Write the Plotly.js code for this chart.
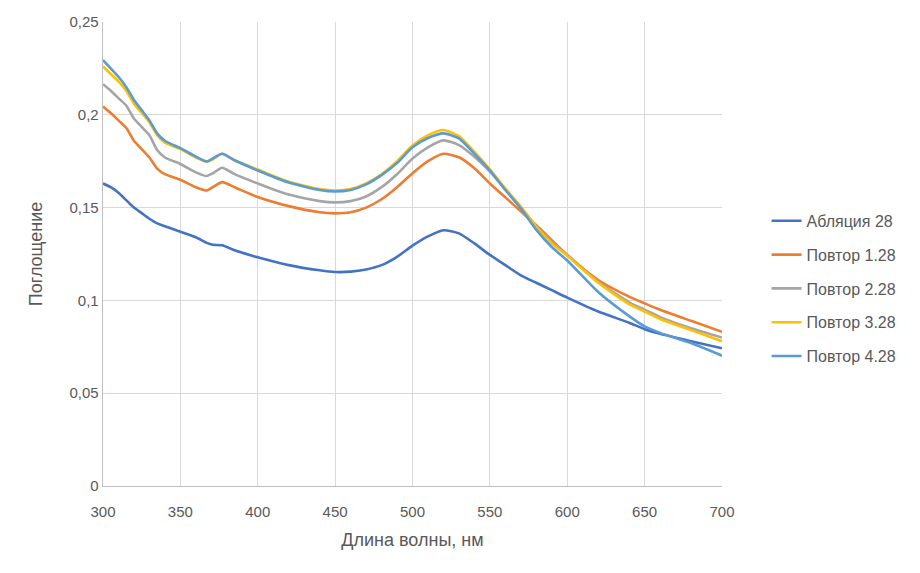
<!DOCTYPE html>
<html>
<head>
<meta charset="utf-8">
<script src="https://cdn.plot.ly/plotly-3.0.1.min.js"></script>
<style>
  html, body { margin: 0; padding: 0; background: #fff; }
  #chart { width: 920px; height: 573px; }
</style>
</head>
<body>
<div id="chart"></div>
<script>
// wavelength, nm
var wave = [300, 305, 310, 315, 320, 325, 330, 335, 340, 350, 360, 367, 371, 377, 385, 400, 420, 440, 450, 460, 470, 480, 490, 500, 510, 520, 530, 540, 550, 560, 570, 580, 590, 600, 620, 640, 650, 660, 680, 700]

var ablation28 = [0.163, 0.161, 0.158, 0.154, 0.150, 0.147, 0.144, 0.1415, 0.140, 0.137, 0.134, 0.131, 0.130, 0.1297, 0.127, 0.1232, 0.119, 0.1162, 0.1153, 0.1155, 0.1167, 0.119, 0.1235, 0.1295, 0.1345, 0.1378, 0.1361, 0.1307, 0.1245, 0.119, 0.1135, 0.1095, 0.1055, 0.1015, 0.094, 0.088, 0.0845, 0.082, 0.078, 0.0742]
var repeat1 = [0.2045, 0.201, 0.197, 0.193, 0.186, 0.1815, 0.177, 0.171, 0.168, 0.165, 0.161, 0.1592, 0.161, 0.1637, 0.161, 0.1557, 0.1508, 0.1475, 0.1469, 0.1475, 0.150, 0.1545, 0.161, 0.1685, 0.175, 0.179, 0.1771, 0.1712, 0.163, 0.1555, 0.148, 0.1405, 0.1325, 0.1245, 0.111, 0.102, 0.0984, 0.095, 0.089, 0.0831]
var repeat2 = [0.2165, 0.213, 0.209, 0.205, 0.198, 0.1935, 0.189, 0.181, 0.177, 0.1735, 0.169, 0.167, 0.1685, 0.1715, 0.168, 0.163, 0.157, 0.1535, 0.1528, 0.1535, 0.156, 0.161, 0.168, 0.1765, 0.1825, 0.1862, 0.1837, 0.1774, 0.1694, 0.160, 0.150, 0.140, 0.1315, 0.1245, 0.110, 0.099, 0.095, 0.091, 0.085, 0.080]
var repeat3 = [0.226, 0.222, 0.218, 0.213, 0.206, 0.201, 0.196, 0.189, 0.185, 0.1815, 0.177, 0.1748, 0.176, 0.179, 0.1755, 0.1705, 0.164, 0.160, 0.1592, 0.160, 0.163, 0.168, 0.175, 0.1835, 0.189, 0.1918, 0.1885, 0.180, 0.1706, 0.1604, 0.1505, 0.1397, 0.1307, 0.124, 0.1095, 0.098, 0.094, 0.090, 0.084, 0.078]
var repeat4 = [0.2295, 0.225, 0.2205, 0.215, 0.208, 0.2025, 0.197, 0.190, 0.186, 0.182, 0.1775, 0.1748, 0.1765, 0.179, 0.1755, 0.170, 0.1635, 0.1595, 0.1587, 0.1595, 0.1625, 0.1675, 0.174, 0.1825, 0.1875, 0.190, 0.1873, 0.179, 0.170, 0.1595, 0.1496, 0.138, 0.1288, 0.1215, 0.1045, 0.0915, 0.086, 0.0825, 0.077, 0.0702]

var names = ['Абляция 28', 'Повтор 1.28', 'Повтор 2.28', 'Повтор 3.28', 'Повтор 4.28']
var colors = ['#4472C4', '#ED7D31', '#A5A5A5', '#FFC000', '#5B9BD5']
var series = [ablation28, repeat1, repeat2, repeat3, repeat4]

var traces = []
series.forEach(function (ys, i) {
    traces.push({
        x: wave, y: ys, name: names[i], type: 'scatter', mode: 'lines',
        legendgroup: 'g' + i,
        line: { color: colors[i], width: 2.6, shape: 'spline', smoothing: 0.6 }
    })
})

var font = { family: 'Liberation Sans, Arial, sans-serif', size: 15, color: '#595959' }

var layout = {
    width: 920, height: 573,
    margin: { l: 103, r: 198, t: 22, b: 87 },
    paper_bgcolor: '#fff', plot_bgcolor: '#fff',
    separators: ', ',
    font: font,
    showlegend: true,
    legend: {
        x: 1.072, xanchor: 'left', y: 0.608, yanchor: 'top',
        traceorder: 'grouped', tracegroupgap: 10,
        font: { family: font.family, size: 16, color: '#595959' }
    },
    xaxis: {
        range: [300, 700], dtick: 50, tick0: 300,
        showgrid: true, gridcolor: '#d9d9d9', gridwidth: 1,
        showline: true, linecolor: '#bfbfbf', linewidth: 1.3,
        zeroline: false, ticks: '', ticklabelstandoff: 12,
        tickfont: { size: 15, color: '#595959' },
        title: { text: 'Длина волны, нм', font: { size: 18, color: '#595959' }, standoff: 14 }
    },
    yaxis: {
        range: [0, 0.25], dtick: 0.05, tick0: 0,
        showgrid: true, gridcolor: '#d9d9d9', gridwidth: 1,
        showline: true, linecolor: '#bfbfbf', linewidth: 1.3,
        zeroline: false, ticks: '',
        tickfont: { size: 15, color: '#595959' },
        title: { text: 'Поглощение', font: { size: 18, color: '#595959' }, standoff: 22 }
    }
}

Plotly.newPlot('chart', traces, layout, { displayModeBar: false, staticPlot: true })
</script>
</body>
</html>
